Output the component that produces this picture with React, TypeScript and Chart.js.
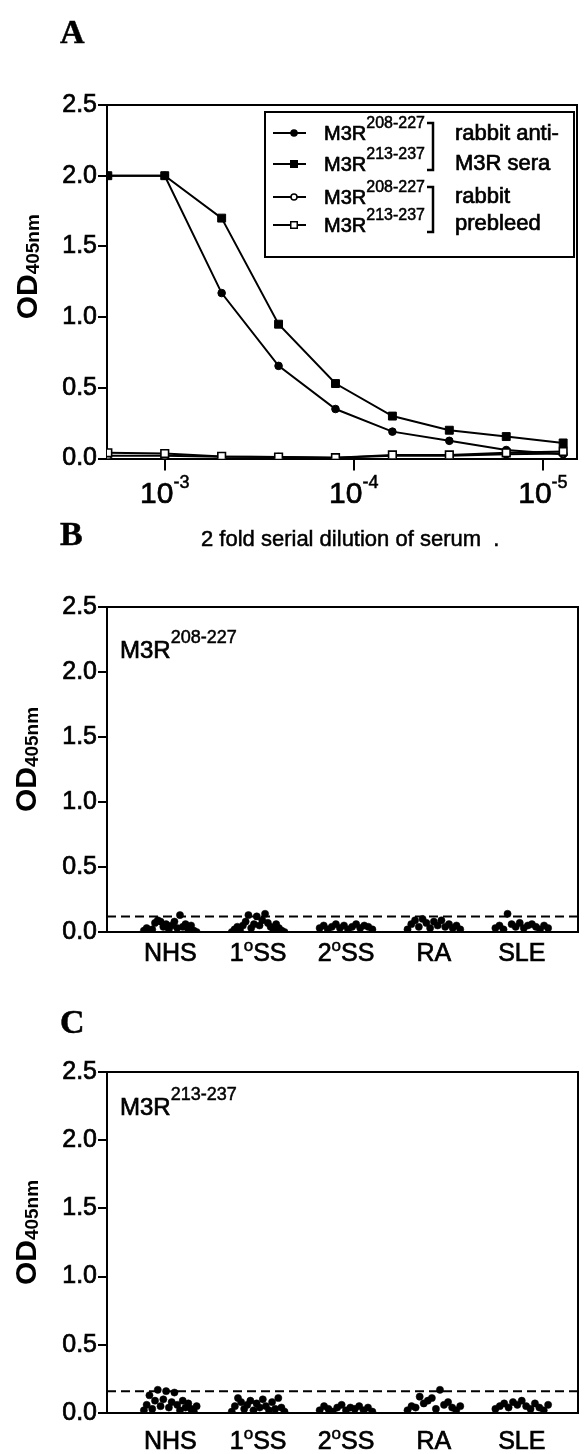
import React, { useEffect, useRef } from 'react';
import { Chart, registerables } from 'chart.js';

Chart.register(...registerables);

const SANS = '"Liberation Sans", Arial, Helvetica, sans-serif';
const SERIF = '"Liberation Serif", "Times New Roman", serif';
const INK = '#000000';
const HEAVY = 0.7;

Chart.defaults.font.family = SANS;
Chart.defaults.color = INK;

const PAGE_W = 584;
const PLOT_LEFT = 107;
const PLOT_RIGHT = 578;

// ---------------- Panel A data ----------------
const dilutions = [1 / 500, 1 / 1000, 1 / 2000, 1 / 4000, 1 / 8000, 1 / 16000, 1 / 32000, 1 / 64000, 1 / 128000];
const antiSera208 = [2.0, 2.0, 1.17, 0.655, 0.35, 0.19, 0.125, 0.06, 0.03];
const antiSera213 = [2.0, 2.0, 1.7, 0.95, 0.53, 0.3, 0.2, 0.155, 0.11];
const prebleed208 = [0.02, 0.02, 0.012, 0.01, 0.006, 0.02, 0.02, 0.03, 0.035];
const prebleed213 = [0.04, 0.035, 0.015, 0.01, 0.006, 0.025, 0.025, 0.04, 0.05];
const dilutionTicks = [1e-3, 1e-4, 1e-5];
const dilutionTickExp = ['-3', '-4', '-5'];
const legendPeptides = ['208-227', '213-237', '208-227', '213-237'];
const legendGroupA = ['rabbit anti-', 'M3R sera'];
const legendGroupB = ['rabbit', 'prebleed'];

// ---------------- Panels B & C data ----------------
const groupLabels = ['NHS', '1°SS', '2°SS', 'RA', 'SLE'];

const b208NHS = [0.01, 0.03, 0.0, 0.02, 0.07, 0.09, 0.08, 0.04, 0.06, 0.02, 0.05, 0.08, 0.03, 0.13, 0.04, 0.06, 0.02, 0.05, 0.01, 0.0];
const b208SS1 = [0.0, 0.02, 0.04, 0.01, 0.05, 0.08, 0.13, 0.03, 0.06, 0.12, 0.05, 0.09, 0.14, 0.07, 0.04, 0.02, 0.06, 0.03, 0.01, 0.0];
const b208SS2 = [0.03, 0.05, 0.02, 0.04, 0.06, 0.03, 0.05, 0.02, 0.04, 0.06, 0.03, 0.05, 0.04, 0.02];
const b208RA = [0.02, 0.06, 0.09, 0.04, 0.1, 0.07, 0.03, 0.08, 0.05, 0.09, 0.04, 0.06, 0.03, 0.05, 0.02];
const b208SLE = [0.03, 0.05, 0.02, 0.14, 0.06, 0.04, 0.07, 0.03, 0.05, 0.06, 0.04, 0.02, 0.05, 0.03];
const cutoffB = 0.12;

const c213NHS = [0.02, 0.06, 0.13, 0.03, 0.09, 0.17, 0.05, 0.1, 0.16, 0.04, 0.08, 0.15, 0.06, 0.02, 0.09, 0.04, 0.07, 0.03, 0.01, 0.05];
const c213SS1 = [0.01, 0.05, 0.11, 0.08, 0.03, 0.06, 0.09, 0.02, 0.07, 0.04, 0.1, 0.05, 0.02, 0.08, 0.03, 0.11, 0.04, 0.01];
const c213SS2 = [0.02, 0.05, 0.03, 0.01, 0.04, 0.06, 0.02, 0.04, 0.03, 0.05, 0.02, 0.04, 0.01];
const c213RA = [0.02, 0.05, 0.04, 0.12, 0.07, 0.09, 0.11, 0.03, 0.17, 0.06, 0.08, 0.04, 0.02, 0.05];
const c213SLE = [0.03, 0.05, 0.07, 0.04, 0.08, 0.06, 0.09, 0.05, 0.03, 0.07, 0.04, 0.02, 0.06];
const cutoffC = 0.16;

const yTicksOD = [0, 0.5, 1.0, 1.5, 2.0, 2.5];

// ---------------- helpers ----------------
function spread(values: number[], group: number) {
  const n = values.length;
  return values.map((v, j) => ({ x: group + (n > 1 ? -0.3 + (0.6 * j) / (n - 1) : 0), y: v }));
}

function txt(ctx: CanvasRenderingContext2D, s: string, x: number, y: number, heavy = HEAVY) {
  ctx.fillText(s, x, y);
  if (heavy > 0) {
    ctx.save();
    ctx.lineWidth = heavy;
    ctx.strokeStyle = INK;
    ctx.setLineDash([]);
    ctx.strokeText(s, x, y);
    ctx.restore();
  }
}

function drawSup(ctx: CanvasRenderingContext2D, x: number, y: number, base: string, sup: string, baseSize: number, supSize: number, rise: number) {
  ctx.font = `${baseSize}px ${SANS}`;
  const bw = ctx.measureText(base).width;
  txt(ctx, base, x, y);
  ctx.font = `${supSize}px ${SANS}`;
  txt(ctx, sup, x + bw, y - rise, 0.5);
  return bw + ctx.measureText(sup).width;
}

function drawYTitle(ctx: CanvasRenderingContext2D, x: number, cy: number) {
  ctx.save();
  ctx.translate(x, cy);
  ctx.rotate(-Math.PI / 2);
  ctx.textAlign = 'left';
  ctx.textBaseline = 'alphabetic';
  ctx.fillStyle = INK;
  ctx.font = `bold 30px ${SANS}`;
  const w1 = ctx.measureText('OD').width;
  ctx.font = `bold 19px ${SANS}`;
  const w2 = ctx.measureText('405nm').width;
  const start = -(w1 + w2) / 2;
  ctx.font = `bold 30px ${SANS}`;
  ctx.fillText('OD', start, 0);
  ctx.font = `bold 19px ${SANS}`;
  ctx.fillText('405nm', start + w1, 2);
  ctx.restore();
}

function drawBox(ctx: CanvasRenderingContext2D, a: any) {
  ctx.save();
  ctx.strokeStyle = INK;
  ctx.lineWidth = 2;
  ctx.beginPath();
  ctx.moveTo(a.left, a.top);
  ctx.lineTo(a.right, a.top);
  ctx.lineTo(a.right, a.bottom);
  ctx.stroke();
  ctx.restore();
}

function drawMarker(ctx: CanvasRenderingContext2D, style: string, x: number, y: number, r: number, fill: string) {
  ctx.beginPath();
  if (style === 'rect') {
    const s = r * Math.SQRT1_2;
    ctx.rect(x - s, y - s, 2 * s, 2 * s);
  } else {
    ctx.arc(x, y, r, 0, Math.PI * 2);
  }
  ctx.fillStyle = fill;
  ctx.fill();
  ctx.lineWidth = 1.5;
  ctx.strokeStyle = INK;
  ctx.stroke();
}

function yAxisOptions() {
  return {
    min: 0,
    max: 2.5,
    afterBuildTicks: (s: any) => {
      s.ticks = yTicksOD.map((v) => ({ value: v }));
    },
    ticks: {
      callback: (v: any) => Number(v).toFixed(1),
      font: { size: 25, family: SANS },
      color: INK,
      textStrokeColor: INK,
      textStrokeWidth: HEAVY,
      padding: 1,
      autoSkip: false,
    },
    grid: { display: true, drawOnChartArea: false, drawTicks: true, tickLength: 9, color: INK, lineWidth: 2 },
    border: { display: true, color: INK, width: 2 },
    afterFit: (s: any) => {
      s.width = PLOT_LEFT;
    },
  };
}

type PanelSpec = {
  top: number;
  height: number;
  plotTop: number;
  plotBottom: number;
  make: (spec: PanelSpec) => any;
};

// ---------------- Panel A ----------------
function makeA(spec: PanelSpec) {
  const mk = (vals: number[]) => dilutions.map((d, i) => ({ x: d, y: vals[i] }));
  const top = spec.top;
  const plugin = {
    id: 'panelA',
    afterDraw(chart: any) {
      const ctx: CanvasRenderingContext2D = chart.ctx;
      const a = chart.chartArea;
      drawBox(ctx, a);
      ctx.save();
      ctx.translate(0, -top);
      ctx.fillStyle = INK;
      ctx.textAlign = 'left';
      ctx.textBaseline = 'alphabetic';
      // panel letter
      ctx.font = `bold 34px ${SERIF}`;
      txt(ctx, 'A', 60, 43, 0.5);
      // y title
      drawYTitle(ctx, 37, (spec.plotTop + spec.plotBottom) / 2 - 15);
      // x tick labels
      const xs = chart.scales.x;
      dilutionTicks.forEach((v, i) => {
        const px = xs.getPixelForValue(v);
        ctx.font = `30px ${SANS}`;
        const w1 = ctx.measureText('10').width;
        ctx.font = `18px ${SANS}`;
        const w2 = ctx.measureText(dilutionTickExp[i]).width;
        const sx = px - (w1 + w2) / 2;
        ctx.font = `30px ${SANS}`;
        txt(ctx, '10', sx, 503);
        ctx.font = `18px ${SANS}`;
        txt(ctx, dilutionTickExp[i], sx + w1, 488, 0.5);
      });
      // x title
      ctx.font = `22px ${SANS}`;
      txt(ctx, '2 fold serial dilution of serum  .', 201, 546, 0.5);
      // legend
      ctx.strokeStyle = INK;
      ctx.lineWidth = 2;
      ctx.strokeRect(265, 112, 309, 145);
      const rows = [133, 164, 197, 225];
      const ds = chart.data.datasets;
      rows.forEach((ry, k) => {
        const d = ds[k];
        ctx.beginPath();
        ctx.moveTo(273, ry);
        ctx.lineTo(306, ry);
        ctx.lineWidth = 2;
        ctx.strokeStyle = INK;
        ctx.stroke();
        drawMarker(ctx, d.pointStyle, 294, ry, d.pointStyle === 'rect' ? 4.6 : 3, d.pointBackgroundColor);
        ctx.fillStyle = INK;
        drawSup(ctx, 324, ry + 7, 'M3R', legendPeptides[k], 20, 16, 12);
      });
      // brackets
      ctx.lineWidth = 2.5;
      [[123, 170], [187, 232]].forEach(([y1, y2]) => {
        ctx.beginPath();
        ctx.moveTo(427, y1);
        ctx.lineTo(433, y1);
        ctx.lineTo(433, y2);
        ctx.lineTo(427, y2);
        ctx.stroke();
      });
      ctx.font = `22px ${SANS}`;
      txt(ctx, legendGroupA[0], 455, 140);
      txt(ctx, legendGroupA[1], 455, 170);
      txt(ctx, legendGroupB[0], 455, 203);
      txt(ctx, legendGroupB[1], 455, 230);
      ctx.restore();
    },
  };
  const line = { showLine: true, borderColor: INK, borderWidth: 2, pointBorderColor: INK };
  return {
    type: 'scatter',
    data: {
      datasets: [
        { ...line, label: 'anti 208-227', data: mk(antiSera208), pointStyle: 'circle', pointRadius: 3.8, pointBackgroundColor: INK, pointBorderWidth: 1, order: 3 },
        { ...line, label: 'anti 213-237', data: mk(antiSera213), pointStyle: 'rect', pointRadius: 5.6, pointBackgroundColor: INK, pointBorderWidth: 1, order: 4 },
        { ...line, label: 'prebleed 208-227', data: mk(prebleed208), pointStyle: 'circle', pointRadius: 3.6, pointBackgroundColor: '#ffffff', pointBorderWidth: 1.6, order: 2 },
        { ...line, label: 'prebleed 213-237', data: mk(prebleed213), pointStyle: 'rect', pointRadius: 5.4, pointBackgroundColor: '#ffffff', pointBorderWidth: 1.6, order: 1 },
      ],
    },
    options: {
      responsive: false,
      animation: false,
      events: [],
      layout: { padding: { top: spec.plotTop - spec.top, right: PAGE_W - PLOT_RIGHT, left: 0, bottom: 0 } },
      plugins: { legend: { display: false }, tooltip: { enabled: false }, title: { display: false } },
      scales: {
        x: {
          type: 'logarithmic',
          reverse: true,
          min: 6.6e-6,
          max: 2.02e-3,
          afterBuildTicks: (s: any) => {
            s.ticks = dilutionTicks.map((v) => ({ value: v }));
          },
          ticks: { callback: () => '', autoSkip: false },
          grid: { display: true, drawOnChartArea: false, drawTicks: true, tickLength: 12, color: INK, lineWidth: 2 },
          border: { display: true, color: INK, width: 2 },
          afterFit: (s: any) => {
            s.height = spec.top + spec.height - spec.plotBottom;
          },
        },
        y: yAxisOptions(),
      },
    },
    plugins: [plugin],
  };
}

// ---------------- Panels B, C ----------------
function makeDot(letter: string, letterBase: number, peptide: string, peptideBase: number, groups: number[][], cutoff: number, labelBase: number) {
  return (spec: PanelSpec) => {
    const top = spec.top;
    const points = groups.flatMap((vals, g) => spread(vals, g));
    const plugin = {
      id: 'panel' + letter,
      afterDraw(chart: any) {
        const ctx: CanvasRenderingContext2D = chart.ctx;
        const a = chart.chartArea;
        drawBox(ctx, a);
        const ys = chart.scales.y;
        const xs = chart.scales.x;
        // cutoff line
        ctx.save();
        ctx.strokeStyle = INK;
        ctx.lineWidth = 2;
        ctx.setLineDash([9, 5]);
        const cy = ys.getPixelForValue(cutoff);
        ctx.beginPath();
        ctx.moveTo(a.left, cy);
        ctx.lineTo(a.right, cy);
        ctx.stroke();
        ctx.restore();

        ctx.save();
        ctx.translate(0, -top);
        ctx.fillStyle = INK;
        ctx.textAlign = 'left';
        ctx.textBaseline = 'alphabetic';
        ctx.font = `bold 34px ${SERIF}`;
        txt(ctx, letter, 60, letterBase, 0.5);
        drawYTitle(ctx, 36, (spec.plotTop + spec.plotBottom) / 2 - 10);
        drawSup(ctx, 120, peptideBase, 'M3R', peptide, 24, 18, 15);
        // category labels
        groupLabels.forEach((lab, i) => {
          const px = xs.getPixelForValue(i);
          const k = lab.indexOf('°');
          if (k < 0) {
            ctx.font = `25px ${SANS}`;
            const w = ctx.measureText(lab).width;
            txt(ctx, lab, px - w / 2, labelBase);
          } else {
            const pre = lab.slice(0, k);
            const post = lab.slice(k + 1);
            ctx.font = `25px ${SANS}`;
            const w1 = ctx.measureText(pre).width;
            const w3 = ctx.measureText(post).width;
            ctx.font = `17px ${SANS}`;
            const w2 = ctx.measureText('o').width;
            const sx = px - (w1 + w2 + w3) / 2;
            ctx.font = `25px ${SANS}`;
            txt(ctx, pre, sx, labelBase);
            txt(ctx, post, sx + w1 + w2, labelBase);
            ctx.font = `17px ${SANS}`;
            txt(ctx, 'o', sx + w1, labelBase - 10, 0.5);
          }
        });
        ctx.restore();
      },
    };
    return {
      type: 'scatter',
      data: {
        datasets: [
          { label: peptide, data: points, pointStyle: 'circle', pointRadius: 3.6, pointBackgroundColor: INK, pointBorderColor: INK, pointBorderWidth: 0.5, showLine: false },
        ],
      },
      options: {
        responsive: false,
        animation: false,
        events: [],
        layout: { padding: { top: spec.plotTop - spec.top, right: PAGE_W - PLOT_RIGHT, left: 0, bottom: 0 } },
        plugins: { legend: { display: false }, tooltip: { enabled: false }, title: { display: false } },
        scales: {
          x: {
            type: 'linear',
            min: -0.72,
            max: 4.64,
            afterBuildTicks: (s: any) => {
              s.ticks = groupLabels.map((_, i) => ({ value: i }));
            },
            ticks: { callback: () => '', autoSkip: false },
            grid: { display: false },
            border: { display: true, color: INK, width: 2 },
            afterFit: (s: any) => {
              s.height = spec.top + spec.height - spec.plotBottom;
            },
          },
          y: yAxisOptions(),
        },
      },
      plugins: [plugin],
    };
  };
}

const panels: PanelSpec[] = [
  { top: 0, height: 560, plotTop: 105, plotBottom: 458.5, make: makeA },
  {
    top: 490,
    height: 500,
    plotTop: 607,
    plotBottom: 932,
    make: makeDot('B', 545, '208-227', 658, [b208NHS, b208SS1, b208SS2, b208RA, b208SLE], cutoffB, 961),
  },
  {
    top: 985,
    height: 469,
    plotTop: 1072,
    plotBottom: 1413,
    make: makeDot('C', 1033, '213-237', 1115, [c213NHS, c213SS1, c213SS2, c213RA, c213SLE], cutoffC, 1449),
  },
];

function Panel({ spec }: { spec: PanelSpec }) {
  const ref = useRef<HTMLCanvasElement | null>(null);
  useEffect(() => {
    if (!ref.current) return;
    const chart = new Chart(ref.current, spec.make(spec));
    return () => chart.destroy();
  }, [spec]);
  return (
    <canvas
      ref={ref}
      width={PAGE_W}
      height={spec.height}
      style={{ position: 'absolute', left: 0, top: spec.top, width: PAGE_W, height: spec.height }}
    />
  );
}

export default function App() {
  return (
    <div style={{ position: 'absolute', left: 0, top: 0, width: PAGE_W, height: 1454, background: '#ffffff', overflow: 'hidden' }}>
      {panels.map((p, i) => (
        <Panel key={i} spec={p} />
      ))}
    </div>
  );
}
